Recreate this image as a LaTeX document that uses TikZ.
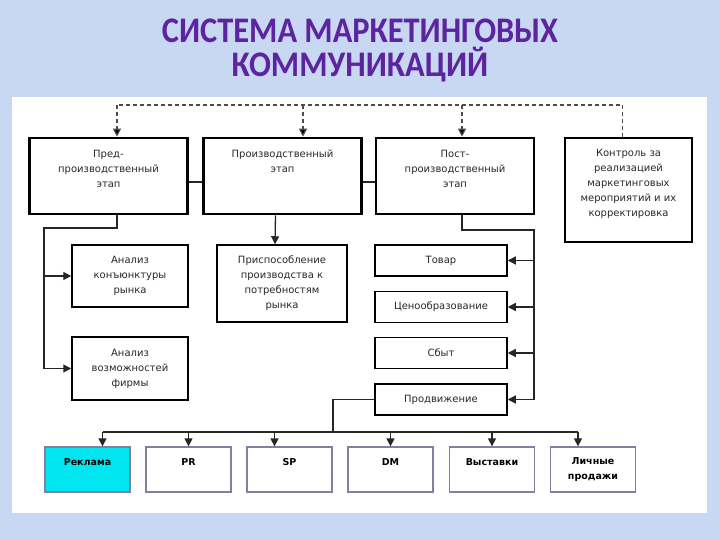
\documentclass[tikz,border=0pt]{standalone}
\usepackage{fontspec}
\setmainfont{DejaVu Sans}
\newfontfamily\titlefont{Carlito}
\usetikzlibrary{arrows.meta}

\definecolor{bgblue}{RGB}{200,216,242}
\definecolor{titlepurple}{RGB}{92,36,158}
\definecolor{boxtext}{RGB}{40,40,40}
\definecolor{botframe}{RGB}{128,128,160}
\definecolor{rekfill}{RGB}{0,230,240}

\begin{document}
\begin{tikzpicture}[
  x=1pt,y=-1pt,
  font=\fontsize{10}{15}\selectfont,
  stage/.style={draw,line width=2.6pt,align=center,text=boxtext,minimum width=158pt,minimum height=76pt,inner sep=2pt},
  plain/.style={draw,line width=1.5pt,align=center,text=boxtext,inner sep=2pt},
  tool/.style={draw=botframe,line width=1.3pt,fill=white,align=center,minimum width=85pt,minimum height=45pt,inner sep=2pt,font=\fontsize{9.5}{15}\selectfont\bfseries},
  link/.style={line width=1.3pt,draw=black!85},
  arr/.style={link,-{Triangle[length=8pt,width=8pt]}},
  dashline/.style={line width=1.2pt,draw=black!70,dash pattern=on 4pt off 3pt},
  dasharr/.style={dashline,-{Triangle[length=8pt,width=8pt,fill=black]}}
]
  \useasboundingbox (0,0) rectangle (720,540);
  \fill[bgblue] (0,0) rectangle (720,540);
  \fill[white] (12,97) rectangle (707,513);

  \node[font=\titlefont\fontsize{36}{34}\selectfont\bfseries,text=titlepurple,align=center] (title) at (360,50)
    {\scalebox{0.9}[1]{СИСТЕМА МАРКЕТИНГОВЫХ}\\\scalebox{0.9}[1]{КОММУНИКАЦИЙ}};

  % stages
  \node[stage] (pre)  at (108.5,176) {Пред-\\производственный\\этап\\\mbox{}};
  \node[stage] (prod) at (282.5,176) {Производственный\\этап\\\mbox{}\\\mbox{}};
  \node[stage] (post) at (455,176)   {Пост-\\производственный\\этап\\\mbox{}};
  \node[plain,minimum width=127pt,minimum height=104pt] (ctl) at (628.5,190)
    {Контроль за\\реализацией\\маркетинговых\\мероприятий и их\\корректировка\\\mbox{}};

  \node[plain,minimum width=116pt,minimum height=62pt] (amr) at (130,276)   {Анализ\\конъюнктуры\\рынка};
  \node[plain,minimum width=116pt,minimum height=63pt] (afm) at (130,368.5) {Анализ\\возможностей\\фирмы};
  \node[plain,minimum width=130pt,minimum height=77pt] (adap) at (282,283.5)
    {Приспособление\\производства к\\потребностям\\рынка};

  \node[plain,minimum width=132pt,minimum height=31pt] (tov) at (441,260.5) {Товар};
  \node[plain,minimum width=132pt,minimum height=31pt] (cen) at (441,307)   {Ценообразование};
  \node[plain,minimum width=132pt,minimum height=31pt] (sbt) at (441,353)   {Сбыт};
  \node[plain,minimum width=132pt,minimum height=31pt] (prd) at (441,399.5) {Продвижение};

  % communication tools
  \node[tool,fill=rekfill] (rek) at (87.5,469.5)  {Реклама\\\mbox{}};
  \node[tool] (pr)  at (188.5,469.5) {PR\\\mbox{}};
  \node[tool] (sp)  at (289.5,469.5) {SP\\\mbox{}};
  \node[tool] (dm)  at (390.5,469.5) {DM\\\mbox{}};
  \node[tool] (vys) at (492,469.5)   {Выставки\\\mbox{}};
  \node[tool] (lp)  at (593,469.5)   {Личные\\продажи};

  % feedback from control
  \coordinate (d1) at (117,105);
  \coordinate (d2) at (303,105);
  \coordinate (d3) at (462,105);
  \draw[dashline] ([xshift=-6pt]ctl.north) |- (d1);
  \draw[dasharr] (d1) -- (pre.north -| d1);
  \draw[dasharr] (d2) -- (prod.north -| d2);
  \draw[dasharr] (d3) -- (post.north -| d3);

  \draw[link] ([yshift=-6pt]pre.east) -- ([yshift=-6pt]prod.west);
  \draw[link] ([yshift=-6pt]prod.east) -- ([yshift=-6pt]post.west);

  % pre-production
  \coordinate (lb) at (44,228);
  \draw[arr] (pre.south -| d1) |- (lb) |- (afm.west);
  \draw[arr] (lb |- amr.west) -- (amr.west);

  % production
  \draw[arr] ([xshift=-7pt]prod.south) -- ([xshift=-7pt]adap.north);

  % post-production
  \coordinate (rb) at (534,230);
  \draw[arr] (post.south -| d3) |- (rb) |- (prd.east);
  \foreach \n in {tov,cen,sbt}
    \draw[arr] (rb |- \n.east) -- (\n.east);

  % promotion mix
  \coordinate (bl) at (102.5,432);
  \coordinate (br) at (578,432);
  \draw[link] (prd.west) -| (333,432);
  \draw[link] (bl) -- (br);
  \foreach \n/\dx in {rek/15,pr/0,sp/-15,dm/0,vys/0,lp/-15}
    \draw[arr] ([xshift=\dx pt]\n.north |- bl) -- ([xshift=\dx pt]\n.north);
\end{tikzpicture}
\end{document}
